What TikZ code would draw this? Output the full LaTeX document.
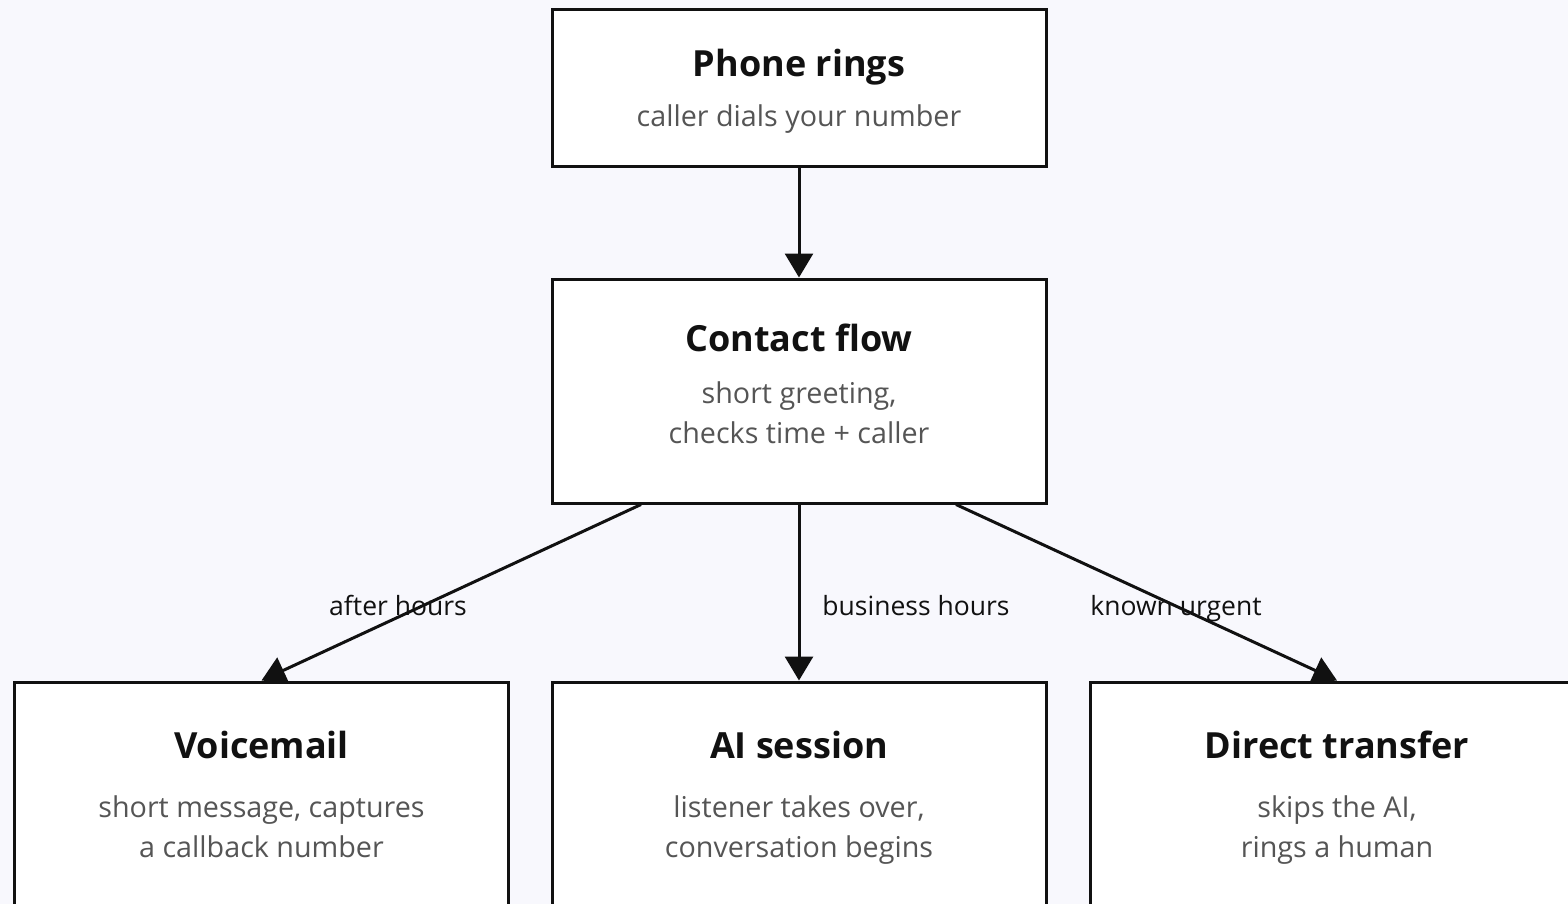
\documentclass[tikz,border=0pt]{standalone}
\usepackage{fontspec}
\setmainfont{Open Sans}
\usetikzlibrary{arrows.meta,calc}
\definecolor{bgc}{HTML}{F8F8FD}
\definecolor{ink}{HTML}{111111}
\definecolor{subc}{HTML}{555555}
\pgfdeclarelayer{canvas}
\pgfdeclarelayer{edges}
\pgfsetlayers{canvas,edges,main}
\tikzset{
  box/.style={draw=ink, line width=3pt, fill=white, inner sep=0pt, minimum width=494pt},
  ttl/.style={text=ink, font=\fontsize{36}{40}\selectfont\bfseries, inner sep=0pt, anchor=base},
  sub/.style={text=subc, font=\fontsize{28.7}{40}\selectfont, inner sep=0pt, anchor=base},
  elabel/.style={text=ink, font=\fontsize{26.5}{28}\selectfont, inner sep=0pt, anchor=base},
  flow/.style={draw=ink, line width=3pt, -{Triangle[width=28pt,length=24pt]}},
}
\begin{document}
\begin{tikzpicture}[x=1pt,y=-1pt]
\begin{pgfonlayer}{canvas}
\fill[bgc] (0,0) rectangle (1568,904);
\end{pgfonlayer}
\useasboundingbox (0,0) rectangle (1568,904);

% boxes
\node[box, minimum height=157pt] (pr) at (799,88.5) {};
\node[box, minimum height=224pt] (cf) at (799,391) {};
\node[box, minimum height=224pt] (vm) at (261.5,794) {};
\node[box, minimum height=224pt] (ai) at (799,794) {};
\node[box, minimum height=224pt] (dt) at (1337,794) {};

% texts (placed on their baselines)
\node[ttl] (prt) at (799,77) {Phone rings};
\node[sub] (prs) at (799,127) {caller dials your number};

\node[ttl] (cft) at (799,351) {Contact flow};
\node[sub] (cfs1) at (799,403) {short greeting,};
\node[sub] (cfs2) at (799,443) {checks time + caller};

\node[ttl] (vmt) at (261.5,758) {Voicemail};
\node[sub] (vms1) at (261.5,817) {short message, captures};
\node[sub] (vms2) at (261.5,857) {a callback number};

\node[ttl] (ait) at (799,758) {AI session};
\node[sub] (ais1) at (799,817) {listener takes over,};
\node[sub] (ais2) at (799,857) {conversation begins};

\node[ttl] (dtt) at (1337,758) {Direct transfer};
\node[sub] (dts1) at (1337,817) {skips the AI,};
\node[sub] (dts2) at (1337,857) {rings a human};

% connectors, kept beneath the boxes
\begin{pgfonlayer}{edges}
\draw[flow] (pr.south) -- (cf.north);
\draw[flow] ([xshift=-158pt]cf.south) -- (vm.north);
\draw[flow] (cf.south) -- (ai.north);
\draw[flow] ([xshift=157pt]cf.south) -- (dt.north);
\end{pgfonlayer}

% edge labels
\node[elabel] (l1) at (398,615) {after hours};
\node[elabel] (l2) at (916,615) {business hours};
\node[elabel] (l3) at (1176,615) {known urgent};
\end{tikzpicture}
\end{document}
